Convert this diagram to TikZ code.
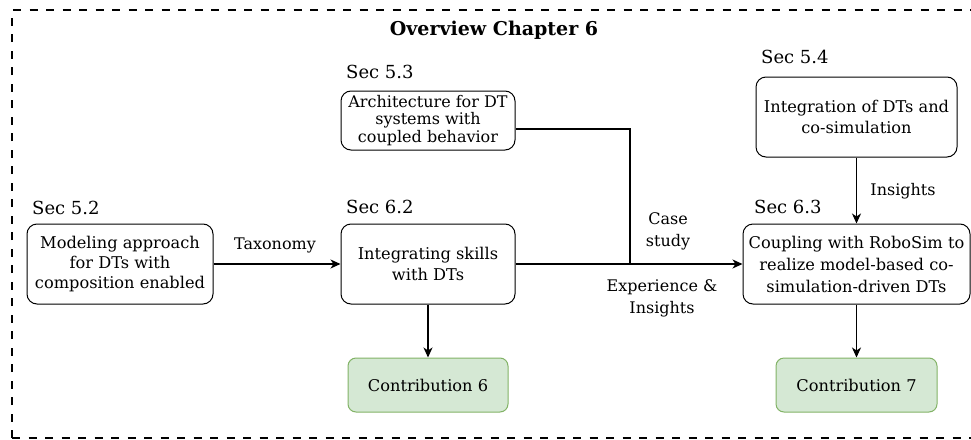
\documentclass[tikz,border=0pt]{standalone}
\usepackage{fontspec}
\setmainfont{DejaVu Serif}
\usetikzlibrary{arrows.meta,calc}

\tikzset{
  box/.style={draw=black, line width=1pt, rounded corners=10pt, fill=white,
    align=center, inner sep=0pt, font=\fontsize{16.2}{21}\selectfont},
  contrib/.style={draw={rgb,255:red,130;green,179;blue,102},
    fill={rgb,255:red,213;green,232;blue,212}, line width=1pt, rounded corners=8pt,
    align=center, inner sep=0pt, font=\fontsize{16.2}{21}\selectfont},
  seclabel/.style={anchor=west, inner sep=0pt, font=\fontsize{18}{21}\selectfont},
  edgelabel/.style={align=center, inner sep=0pt, font=\fontsize{16}{22}\selectfont},
  flow/.style={line width=1.2pt, -{Stealth[length=10pt,width=9pt,inset=3pt]}},
  link/.style={line width=1.2pt},
  frame/.style={line width=2.2pt, dash pattern=on 8pt off 8.5pt}
}

\begin{document}
\begin{tikzpicture}[x=1pt,y=-1pt]
  \useasboundingbox (0,0) rectangle (971,439);

  % dashed outer frame (right side runs past the page edge)
  \draw[frame] (12,438) -- (12,10) -- (1000,10);
  \draw[frame] (12,438) -- (1000,438);

  \node[font=\bfseries\fontsize{19}{21}\selectfont] (title) at (494,30) {Overview Chapter 6};

  % section boxes
  \node[box, font=\fontsize{16.2}{20}\selectfont, minimum width=186pt, minimum height=80pt] (A) at (120,264)
    {Modeling approach\\for DTs with\\composition enabled};
  \node[seclabel] (secA) at (32,208) {Sec 5.2};

  \node[box, font=\fontsize{16}{17.5}\selectfont, minimum width=174pt, minimum height=59pt] (C) at (428,120.5)
    {Architecture for DT\\systems with\\coupled behavior};
  \node[seclabel] (secC) at (346,72) {Sec 5.3};

  \node[box, minimum width=174pt, minimum height=80pt] (B) at (428,264)
    {Integrating skills\\with DTs};
  \node[seclabel] (secB) at (346,207) {Sec 6.2};

  \node[box, minimum width=201pt, minimum height=80pt] (E) at (856.5,117)
    {Integration of DTs and\\co-simulation};
  \node[seclabel] (secE) at (761,57) {Sec 5.4};

  \node[box, font=\fontsize{16.2}{22}\selectfont, minimum width=227pt, minimum height=80pt] (D) at (856.5,264)
    {Coupling with RoboSim to\\realize model-based co-\\simulation-driven DTs};
  \node[seclabel] (secD) at (754,207) {Sec 6.3};

  % contributions
  \node[contrib, minimum width=160pt, minimum height=54pt] (F) at (428,385) {Contribution 6};
  \node[contrib, minimum width=161pt, minimum height=54pt] (G) at (856.5,385) {Contribution 7};

  % connectors
  \draw[flow] (A.east) -- (B.west);
  \node[edgelabel] (tax) at (275,245) {Taxonomy};

  \draw[flow] (B.east) -- (D.west);
  \coordinate (join) at (630,264);
  \draw[link] ($(C.east)+(0,8.5)$) -| (join);
  \node[edgelabel] (case) at (668,231) {Case\\study};
  \node[edgelabel] (exp) at (662,298) {Experience \&\\Insights};

  \draw[flow] (E.south) -- (D.north);
  \node[edgelabel] (ins) at (903,191) {Insights};

  \draw[flow] (B.south) -- (F.north);
  \draw[flow] (D.south) -- (G.north);
\end{tikzpicture}
\end{document}
